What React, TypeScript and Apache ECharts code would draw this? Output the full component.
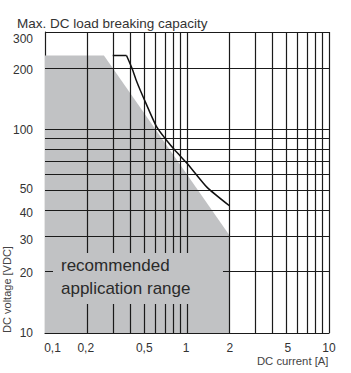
import React, { useEffect, useRef } from 'react';
import * as echarts from 'echarts';

// ---- data ----
const xTickValues = [0.1, 0.2, 0.5, 1, 2, 5, 10];
const yTickValues = [10, 20, 30, 40, 50, 100, 200, 300];
const xGridValues = [0.2, 0.3, 0.4, 0.5, 0.6, 0.7, 0.8, 0.9, 1, 2, 3, 4, 5, 6, 7, 8, 9, 10];
const yGridValues = [20, 30, 40, 50, 60, 70, 80, 90, 100, 200, 300];
const recommendedRange = [[0.1, 230], [0.26, 230], [2, 30], [2, 10]];
const breakingCurveFlat = [[0.3, 230], [0.375, 230]];
const breakingCurve = [
  [0.375, 230], [0.41, 199], [0.443, 171], [0.5, 140], [0.61, 103], [0.72, 88],
  [0.82, 79], [1.02, 67], [1.38, 52], [2, 42],
];

// label nudges (pixels) to mimic the reference placement
const X_SHIFT: Record<string, number> = { '0.1': 7.5, '0.2': -2, '1': -1, '5': 1.5 };
const Y_SHIFT: Record<string, number> = { '300': 7, '200': 2, '100': 1, '50': -2, '40': 3, '30': 4, '20': 1 };

const FONT = '"Liberation Sans", Arial, Helvetica, sans-serif';
const LINE = '#1a1a1a';
const FILL = '#c1c2c4';
const TEXT = '#333';

const keyOf = (v: number) => 'k' + String(v).replace('.', '_');
const fmt = (v: number) => String(v).replace('.', ',');

export default function App() {
  const ref = useRef<HTMLDivElement>(null);
  useEffect(() => {
    document.body.style.margin = '0';
    const chart = echarts.init(ref.current!, null, { renderer: 'svg' });

    const xRich: any = {};
    xTickValues.forEach((v) => {
      const s = X_SHIFT[String(v)] || 0;
      xRich[keyOf(v)] = {
        fontSize: 12, color: TEXT, fontFamily: FONT,
        padding: s >= 0 ? [0, 0, 0, 2 * s] : [0, -2 * s, 0, 0],
      };
    });
    const yRich: any = {};
    yTickValues.forEach((v) => {
      const s = Y_SHIFT[String(v)] || 0;
      yRich[keyOf(v)] = {
        fontSize: 12, color: TEXT, fontFamily: FONT,
        padding: s >= 0 ? [2 * s, 0, 0, 0] : [0, 0, -2 * s, 0],
      };
    });

    chart.setOption({
      animation: false,
      textStyle: { fontFamily: FONT },
      title: {
        text: 'Max. DC load breaking capacity',
        left: 12,
        top: 11,
        textStyle: { fontSize: 13.5, fontWeight: 'normal', color: TEXT, fontFamily: FONT },
      },
      grid: { left: 45, right: 22, top: 32, bottom: 40, containLabel: false, outerBoundsMode: 'none' },
      xAxis: {
        type: 'log',
        logBase: 10,
        min: 0.1,
        max: 10,
        axisLine: { show: true, lineStyle: { color: LINE, width: 1.2 } },
        axisTick: { show: false },
        splitLine: { show: false },
        minorTick: { show: false },
        minorSplitLine: { show: false },
        axisLabel: {
          customValues: xTickValues,
          margin: 9,
          formatter: (v: number) => `{${keyOf(v)}|${fmt(v)}}`,
          rich: xRich,
        },
      },
      yAxis: {
        type: 'log',
        logBase: 10,
        min: 10,
        max: 300,
        axisLine: { show: true, lineStyle: { color: LINE, width: 1.2 } },
        axisTick: { show: false },
        splitLine: { show: false },
        minorTick: { show: false },
        minorSplitLine: { show: false },
        axisLabel: {
          customValues: yTickValues,
          margin: 12,
          formatter: (v: number) => `{${keyOf(v)}|${fmt(v)}}`,
          rich: yRich,
        },
      },
      graphic: [
        { type: 'rect', z: 30, shape: { x: 53, y: 253, width: 170, height: 51 }, style: { fill: FILL }, silent: true },
        { type: 'text', z: 31, x: 61, y: 265.8, style: { text: 'recommended', fontSize: 17, fill: '#2a2a2a', fontFamily: FONT, align: 'left', verticalAlign: 'middle' } },
        { type: 'text', z: 31, x: 61, y: 288.4, style: { text: 'application range', fontSize: 17, fill: '#2a2a2a', fontFamily: FONT, align: 'left', verticalAlign: 'middle' } },
        { type: 'text', z: 31, x: 328.5, y: 361, style: { text: 'DC current [A]', fontSize: 11.3, fill: '#444', fontFamily: FONT, align: 'right', verticalAlign: 'middle' } },
        { type: 'text', z: 31, x: 6.5, y: 289.5, rotation: Math.PI / 2, style: { text: 'DC voltage [VDC]', fontSize: 11, fill: '#444', fontFamily: FONT, align: 'center', verticalAlign: 'middle' } },
      ],
      series: [
        {
          type: 'line',
          name: 'recommended',
          data: recommendedRange,
          symbol: 'none',
          silent: true,
          z: 1,
          lineStyle: { width: 0 },
          areaStyle: { color: FILL, opacity: 1, origin: 'start' },
        },
        {
          type: 'line',
          name: 'grid',
          data: [],
          symbol: 'none',
          silent: true,
          z: 2,
          markLine: {
            silent: true,
            z: 2,
            symbol: ['none', 'none'],
            label: { show: false },
            lineStyle: { color: LINE, width: 1.2, type: 'solid' },
            emphasis: { disabled: true },
            data: [
              ...xGridValues.map((v) => ({ xAxis: v })),
              ...yGridValues.map((v) => ({ yAxis: v })),
            ],
          },
        },
        {
          type: 'line',
          name: 'limit',
          data: breakingCurveFlat,
          symbol: 'none',
          silent: true,
          z: 40,
          lineStyle: { color: '#111', width: 1.5 },
        },
        {
          type: 'line',
          name: 'limit curve',
          data: breakingCurve,
          symbol: 'none',
          smooth: 0.2,
          silent: true,
          z: 40,
          lineStyle: { color: '#111', width: 1.5 },
        },
      ],
    });
    return () => chart.dispose();
  }, []);
  return <div ref={ref} style={{ width: 351, height: 373 }} />;
}
